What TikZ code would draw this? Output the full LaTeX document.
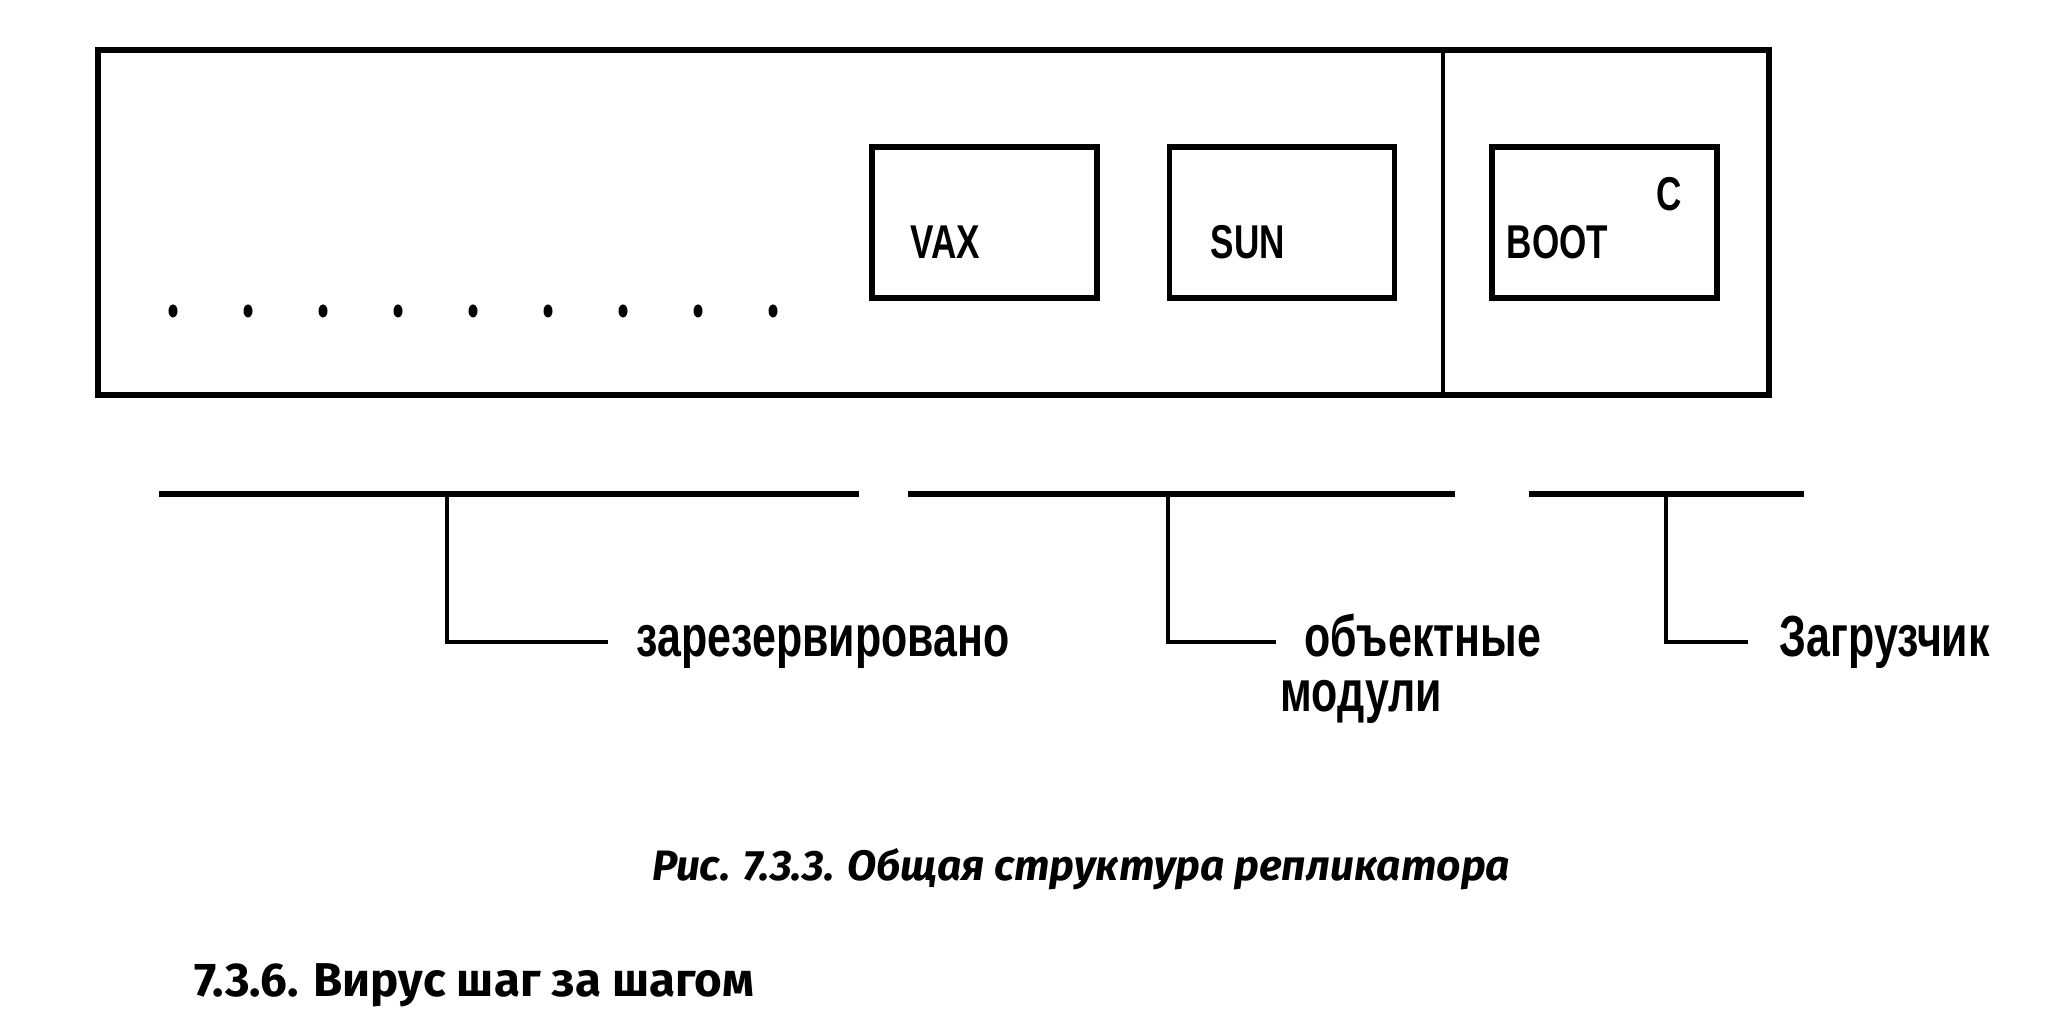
\documentclass[tikz,border=0pt]{standalone}
\usepackage{fontspec}
\newfontfamily\condfont[FakeStretch=0.74]{Liberation Sans Bold}
\newfontfamily\capfont{Fira Sans}
\usetikzlibrary{positioning,shapes.geometric}

\begin{document}
\begin{tikzpicture}[
    frame/.style={rectangle, draw, line width=1.6pt, minimum width=16.71cm, minimum height=3.45cm, inner sep=0pt},
    module/.style={rectangle, draw, line width=1.5pt, minimum width=2.25cm, minimum height=1.51cm, inner sep=0pt},
    tag/.style={inner sep=0pt, anchor=base west, font=\condfont\fontsize{13.5}{15}\selectfont},
    lbl/.style={inner sep=0pt, anchor=west, text height=0.30cm, text depth=0pt, font=\condfont\fontsize{16.5}{18}\selectfont},
    brace/.style={line width=1.6pt},
    leg/.style={line width=1.1pt},
    dot/.style={ellipse, fill, inner sep=0pt, minimum width=0.09cm, minimum height=0.13cm}
]
    \useasboundingbox (0,0) rectangle (20.53,-10.26);

    % Replicator frame
    \node[frame] (frame) at (9.335,-2.225) {};
    \coordinate (div) at (14.43,0);
    \draw[line width=1.1pt] (div |- frame.north) -- (div |- frame.south);

    % Object modules
    \node[module] (vax) at (9.845,-2.225) {};
    \node[module] (sun) at (12.82,-2.225) {};
    \node[module] (boot) at (16.045,-2.225) {};
    \node[tag] (vaxt) at (9.10,-2.59) {VAX};
    \node[tag] (sunt) at (12.10,-2.59) {SUN};
    \node[tag] (boott) at (15.06,-2.59) {BOOT};
    \node[tag] (ct) at (16.56,-2.11) {C};

    % Reserved space
    \foreach \i in {0,...,8}
        \node[dot] (d\i) at ({1.73+0.75*\i},-3.11) {};

    % Braces
    \coordinate (r1) at (1.59,-4.94);
    \coordinate (r2) at (8.59,-4.94);
    \coordinate (rm) at (4.47,-4.94);
    \coordinate (o1) at (9.08,-4.94);
    \coordinate (o2) at (14.55,-4.94);
    \coordinate (om) at (11.68,-4.94);
    \coordinate (l1) at (15.29,-4.94);
    \coordinate (l2) at (18.04,-4.94);
    \coordinate (lm) at (16.66,-4.94);
    \draw[brace] (r1) -- (r2);
    \draw[brace] (o1) -- (o2);
    \draw[brace] (l1) -- (l2);

    % Labels
    \node[lbl] (reserved) at (6.36,-6.42) {зарезервировано};
    \node[lbl] (objects) at (13.04,-6.42) {объектные};
    \node[lbl] (modules) at (12.80,-6.97) {модули};
    \node[lbl] (loader) at (17.79,-6.42) {Загрузчик};

    \draw[leg] (rm) |- ([xshift=-0.28cm]reserved.west);
    \draw[leg] (om) |- ([xshift=-0.28cm]objects.west);
    \draw[leg] (lm) |- ([xshift=-0.31cm]loader.west);

    % Caption and heading
    \node[font=\capfont\bfseries\itshape\fontsize{12.1}{14}\selectfont] (caption) at (10.81,-8.69) {Рис. 7.3.3. Общая структура репликатора};
    \node[anchor=west, inner sep=0pt, font=\capfont\bfseries\fontsize{13.5}{15}\selectfont] (heading) at (1.94,-9.85) {7.3.6. Вирус шаг за шагом};
\end{tikzpicture}
\end{document}
